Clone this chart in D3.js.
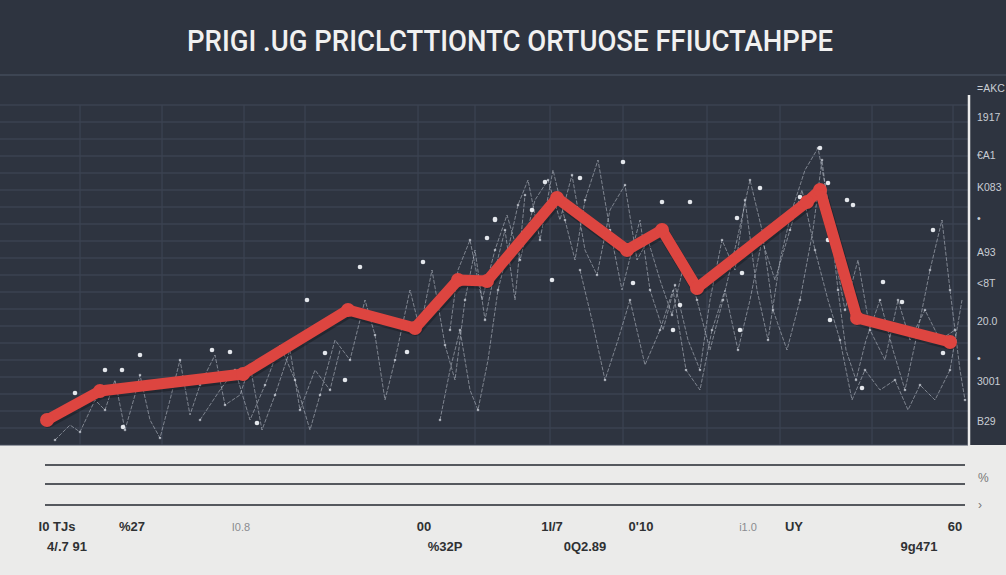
<!DOCTYPE html>
<html><head><meta charset="utf-8">
<script src="https://cdn.jsdelivr.net/npm/d3@7"></script>
<style>html,body{margin:0;padding:0;background:#2e3440;overflow:hidden}</style>
</head><body>
<svg id="c" width="1006" height="575"></svg>
<script>
// ---------- data ----------
const titleText = "PRIGI .UG  PRICLCTTIONTC ORTUOSE FFIUCTAHPPE";
// main red series (x = period, y = price index)
const priceX = [0, 10.6, 39.2, 60.2, 73.6, 82.2, 88, 102, 116, 123, 130, 152, 154.6, 162, 180.6];
const priceY = [5, 10.8, 14.2, 27, 23.4, 33, 32.8, 49.4, 39, 43, 31.4, 48.6, 51, 25.4, 20.6];
// faint sample trajectories
const traceA = [[1.6,1],[4.6,4],[6.6,2.6],[9.6,9],[11.6,7],[13.6,13],[15.6,3],[17.6,10],[18.6,14],[20.6,5],[22.6,1.4],[24.6,9],[26.6,17],[28.6,6],[30.6,12],[33.6,18],[35.6,8],[38.6,10],[40.6,16],[43,3],[45.6,10],[48.6,19],[50.6,7],[53.6,15],[56.6,11],[58.6,19]];
const traceB = [[30.6,5],[34.6,11],[37.6,15],[40.6,5],[43.6,12],[46.6,20],[49.6,13],[52.6,3],[54.6,10],[57.6,21],[60.6,17],[63.6,29],[65.6,22],[67.6,9],[69.6,17],[72.6,31],[74.6,23],[77,35],[79.6,20],[81.6,13],[83.6,29],[85.6,39],[87.6,25],[89.6,35],[91.6,43],[93.6,29],[95.6,50]];
const traceC = [[78.6,5],[80.6,15],[82.6,23],[84.6,11],[86.2,7],[88.2,17],[90.2,31],[92.2,39],[94.2,48],[96.2,53],[98.6,41],[101.2,55],[103.6,45],[105.6,37],[107.6,49],[110.2,57],[112.6,43],[115,31],[117,39],[118.6,45],[120.6,31],[123.2,23],[125.6,32],[128.2,21],[130.6,15],[132.6,29],[135,41],[137.6,35],[139.6,49],[142,31],[144.2,21],[146.6,37],[149,47],[151.6,55],[154.2,59.4],[156.2,49],[158.2,31],[159.8,19],[161.8,13],[163.8,21],[166.6,29],[169.2,19],[171.6,11],[174.2,23],[176.6,35],[179,45],[180.6,31],[182.6,15],[183.6,9]];
const traceD = [[106.6,35],[109,25],[111.6,13],[114.2,21],[116.6,29],[119.6,16],[122.6,23],[125.2,31],[127.8,15],[130.6,11],[133,23],[135.6,31],[138.2,19],[140.6,29],[143,41],[145.6,33],[148.6,43],[151,51],[153.6,39],[156.2,29],[158.6,21],[161,9],[163.6,15],[166.6,11],[169.6,13],[172.2,7],[174.6,12],[177.6,9],[180.6,15],[183,29]];
const traceE = [[80.6,23],[82.2,35],[84.6,41],[87,29],[89.6,39],[92,46],[94.6,37],[97.6,49],[100.2,53],[102.6,45],[105,54],[107.6,39],[110,34],[112.6,47],[115.6,52],[118,37],[120.2,41],[122.6,33],[125,26],[127.6,37],[130,29],[132.6,19],[135.2,29],[138,41],[140.6,53],[143,43],[145.2,27],[148,19],[150.6,29],[153.2,43],[155,57],[157,41],[159.6,27],[162.2,37],[164.6,23],[167.6,17],[170.2,29],[172.6,21],[175.6,27],[178.6,21],[181.6,23]];
const sampleDots = [[11.6,15],[15,15],[18.6,18],[33,19],[36.6,18.6],[42,4.4],[52,29],[62.6,35.6],[75.2,36.6],[72,18.6],[89.6,45.2],[88,41.4],[55.6,18.4],[59.6,13],[5.6,10.4],[15.2,3.6],[154.6,59.4],[156.2,52.4],[123,48.6],[128.6,48.6],[115.2,56.6],[106.6,53.4],[99.6,52.6],[97,47],[89.6,45],[101,33],[117.2,32.4],[126.6,28],[139,34.4],[138,45.4],[160,49],[161.2,48],[156.2,41],[156.6,25],[167.2,32.6],[171,28.6],[177.2,43],[163,11.4],[179.2,18.4],[125.2,23],[138.6,23],[142.6,51.4],[150.6,49.6]];
// right axis tick labels
const rightTickVals = [71.4, 65.6, 58, 51.6, 45.4, 38.6, 32.4, 24.8, 17.4, 12.8, 4.8];
const rightTickLabels = ["=AKC", "1917", "€A1", "K083", "•", "A93", "<8T", "20.0", "•", "3001", "B29"];
// bottom labels
const bottomRow1X = [2, 17, 38.8, 75.4, 101, 118.8, 140.2, 149.4, 181.6];
const bottomRow1 = ["I0 TJs", "%27", "I0.8", "00", "1I/7", "0'10", "i1.0", "UY", "60"];
const bottomRow1Light = [false, false, true, false, false, false, true, false, false];
const bottomRow2X = [4, 79.6, 107.6, 174.4];
const bottomRow2 = ["4/.7 91", "%32P", "0Q2.89", "9g471"];
const bottomRightLabels = ["%", "›"];
const verticalGridX = [6.6, 23, 39.4, 51.6, 74.2, 85.6, 100.6, 115.2, 132, 146.6, 165, 181.2];

// ---------- layout ----------
const svg = d3.select("#c");
const W = 1006, H = 575;
const x = d3.scaleLinear().domain([0, 184]).range([47, 967]);
const y = d3.scaleLinear().domain([0, 70]).range([445, 95]);

svg.append("rect").attr("width", W).attr("height", H).attr("fill", "#2e3440");
svg.append("rect").attr("x", 0).attr("y", 445).attr("width", W).attr("height", 130).attr("fill", "#ebebea");

// title
svg.append("text").attr("x", 510).attr("y", 51).attr("text-anchor", "middle")
  .attr("font-family", "Roboto,'Liberation Sans Narrow',sans-serif")
  .attr("font-size", 30).attr("font-weight", 500).attr("fill", "#f1f1f1")
  .attr("textLength", 646).attr("lengthAdjust", "spacingAndGlyphs")
  .text(titleText);

// grid
const g = svg.append("g");
g.append("line").attr("x1", 0).attr("x2", W).attr("y1", y(74)).attr("y2", y(74))
  .attr("stroke", "#434b5a").attr("stroke-width", 1.5);
g.selectAll(".hg").data(d3.range(0, 69, 3.4)).join("line")
  .attr("x1", 0).attr("x2", 968).attr("y1", d => y(d)).attr("y2", d => y(d))
  .attr("stroke", "#414958").attr("stroke-width", 1);
g.selectAll(".vg").data(verticalGridX).join("line")
  .attr("x1", d => x(d)).attr("x2", d => x(d)).attr("y1", y(68)).attr("y2", 445)
  .attr("stroke", "#3c4453").attr("stroke-width", 1.2);

// faint traces
const tl = d3.line().x(d => x(d[0])).y(d => y(d[1]));
[traceA, traceB, traceC, traceD, traceE].forEach(t => {
  svg.append("path").attr("d", tl(t)).attr("fill", "none")
    .attr("stroke", "rgba(205,212,222,0.5)").attr("stroke-width", 1).attr("stroke-dasharray", "4,1.5");
  svg.append("g").selectAll("circle").data(t.filter((d, i) => i % 2 === 0)).join("circle")
    .attr("cx", d => x(d[0])).attr("cy", d => y(d[1])).attr("r", 1.3).attr("fill", "rgba(220,225,232,0.65)");
});
svg.append("g").selectAll("circle").data(sampleDots).join("circle")
  .attr("cx", d => x(d[0])).attr("cy", d => y(d[1])).attr("r", 2.3).attr("fill", "#e4e7ec");

// red main line
const pts = priceX.map((v, i) => [v, priceY[i]]);
svg.append("path").attr("d", tl(pts)).attr("fill", "none")
  .attr("stroke", "rgba(0,0,0,0.25)").attr("stroke-width", 12).attr("stroke-linejoin", "round")
  .attr("stroke-linecap", "round").attr("transform", "translate(1,2)");
svg.append("path").attr("d", tl(pts)).attr("fill", "none")
  .attr("stroke", "#dd4540").attr("stroke-width", 11).attr("stroke-linejoin", "round").attr("stroke-linecap", "round");
svg.append("g").selectAll("circle").data(pts).join("circle")
  .attr("cx", d => x(d[0])).attr("cy", d => y(d[1])).attr("r", 7).attr("fill", "#dd4540");

// right axis
svg.append("line").attr("x1", 969).attr("x2", 969).attr("y1", 95).attr("y2", 445)
  .attr("stroke", "#ececec").attr("stroke-width", 2.5);
svg.append("g").selectAll("text").data(rightTickVals).join("text")
  .attr("x", 977).attr("y", d => y(d)).attr("dy", "0.35em")
  .attr("font-family", "'Liberation Sans Narrow',sans-serif").attr("font-size", 10.5)
  .attr("fill", "#c9cdd4").text((d, i) => rightTickLabels[i]);

// bottom lines
svg.append("g").selectAll("line").data([465, 484, 505]).join("line")
  .attr("x1", 45).attr("x2", 965).attr("y1", d => d).attr("y2", d => d)
  .attr("stroke", "#55585e").attr("stroke-width", 1.8);
svg.append("g").selectAll("text").data(bottomRightLabels).join("text")
  .attr("x", 978).attr("y", (d, i) => i === 0 ? 482 : 509)
  .attr("font-family", "'Liberation Sans Narrow',sans-serif").attr("font-size", 12)
  .attr("fill", "#777").text(d => d);

// bottom labels
svg.append("g").selectAll("text").data(bottomRow1).join("text")
  .attr("x", (d, i) => x(bottomRow1X[i])).attr("y", 531).attr("text-anchor", "middle")
  .attr("font-family", "'Liberation Sans Narrow',sans-serif")
  .attr("font-size", (d, i) => bottomRow1Light[i] ? 11 : 13)
  .attr("font-weight", (d, i) => bottomRow1Light[i] ? 400 : 700)
  .attr("fill", (d, i) => bottomRow1Light[i] ? "#8a8c90" : "#2f3133").text(d => d);
svg.append("g").selectAll("text").data(bottomRow2).join("text")
  .attr("x", (d, i) => x(bottomRow2X[i])).attr("y", 551).attr("text-anchor", "middle")
  .attr("font-family", "'Liberation Sans Narrow',sans-serif").attr("font-size", 13).attr("font-weight", 700)
  .attr("fill", "#2f3133").text(d => d);
</script>
</body></html>
